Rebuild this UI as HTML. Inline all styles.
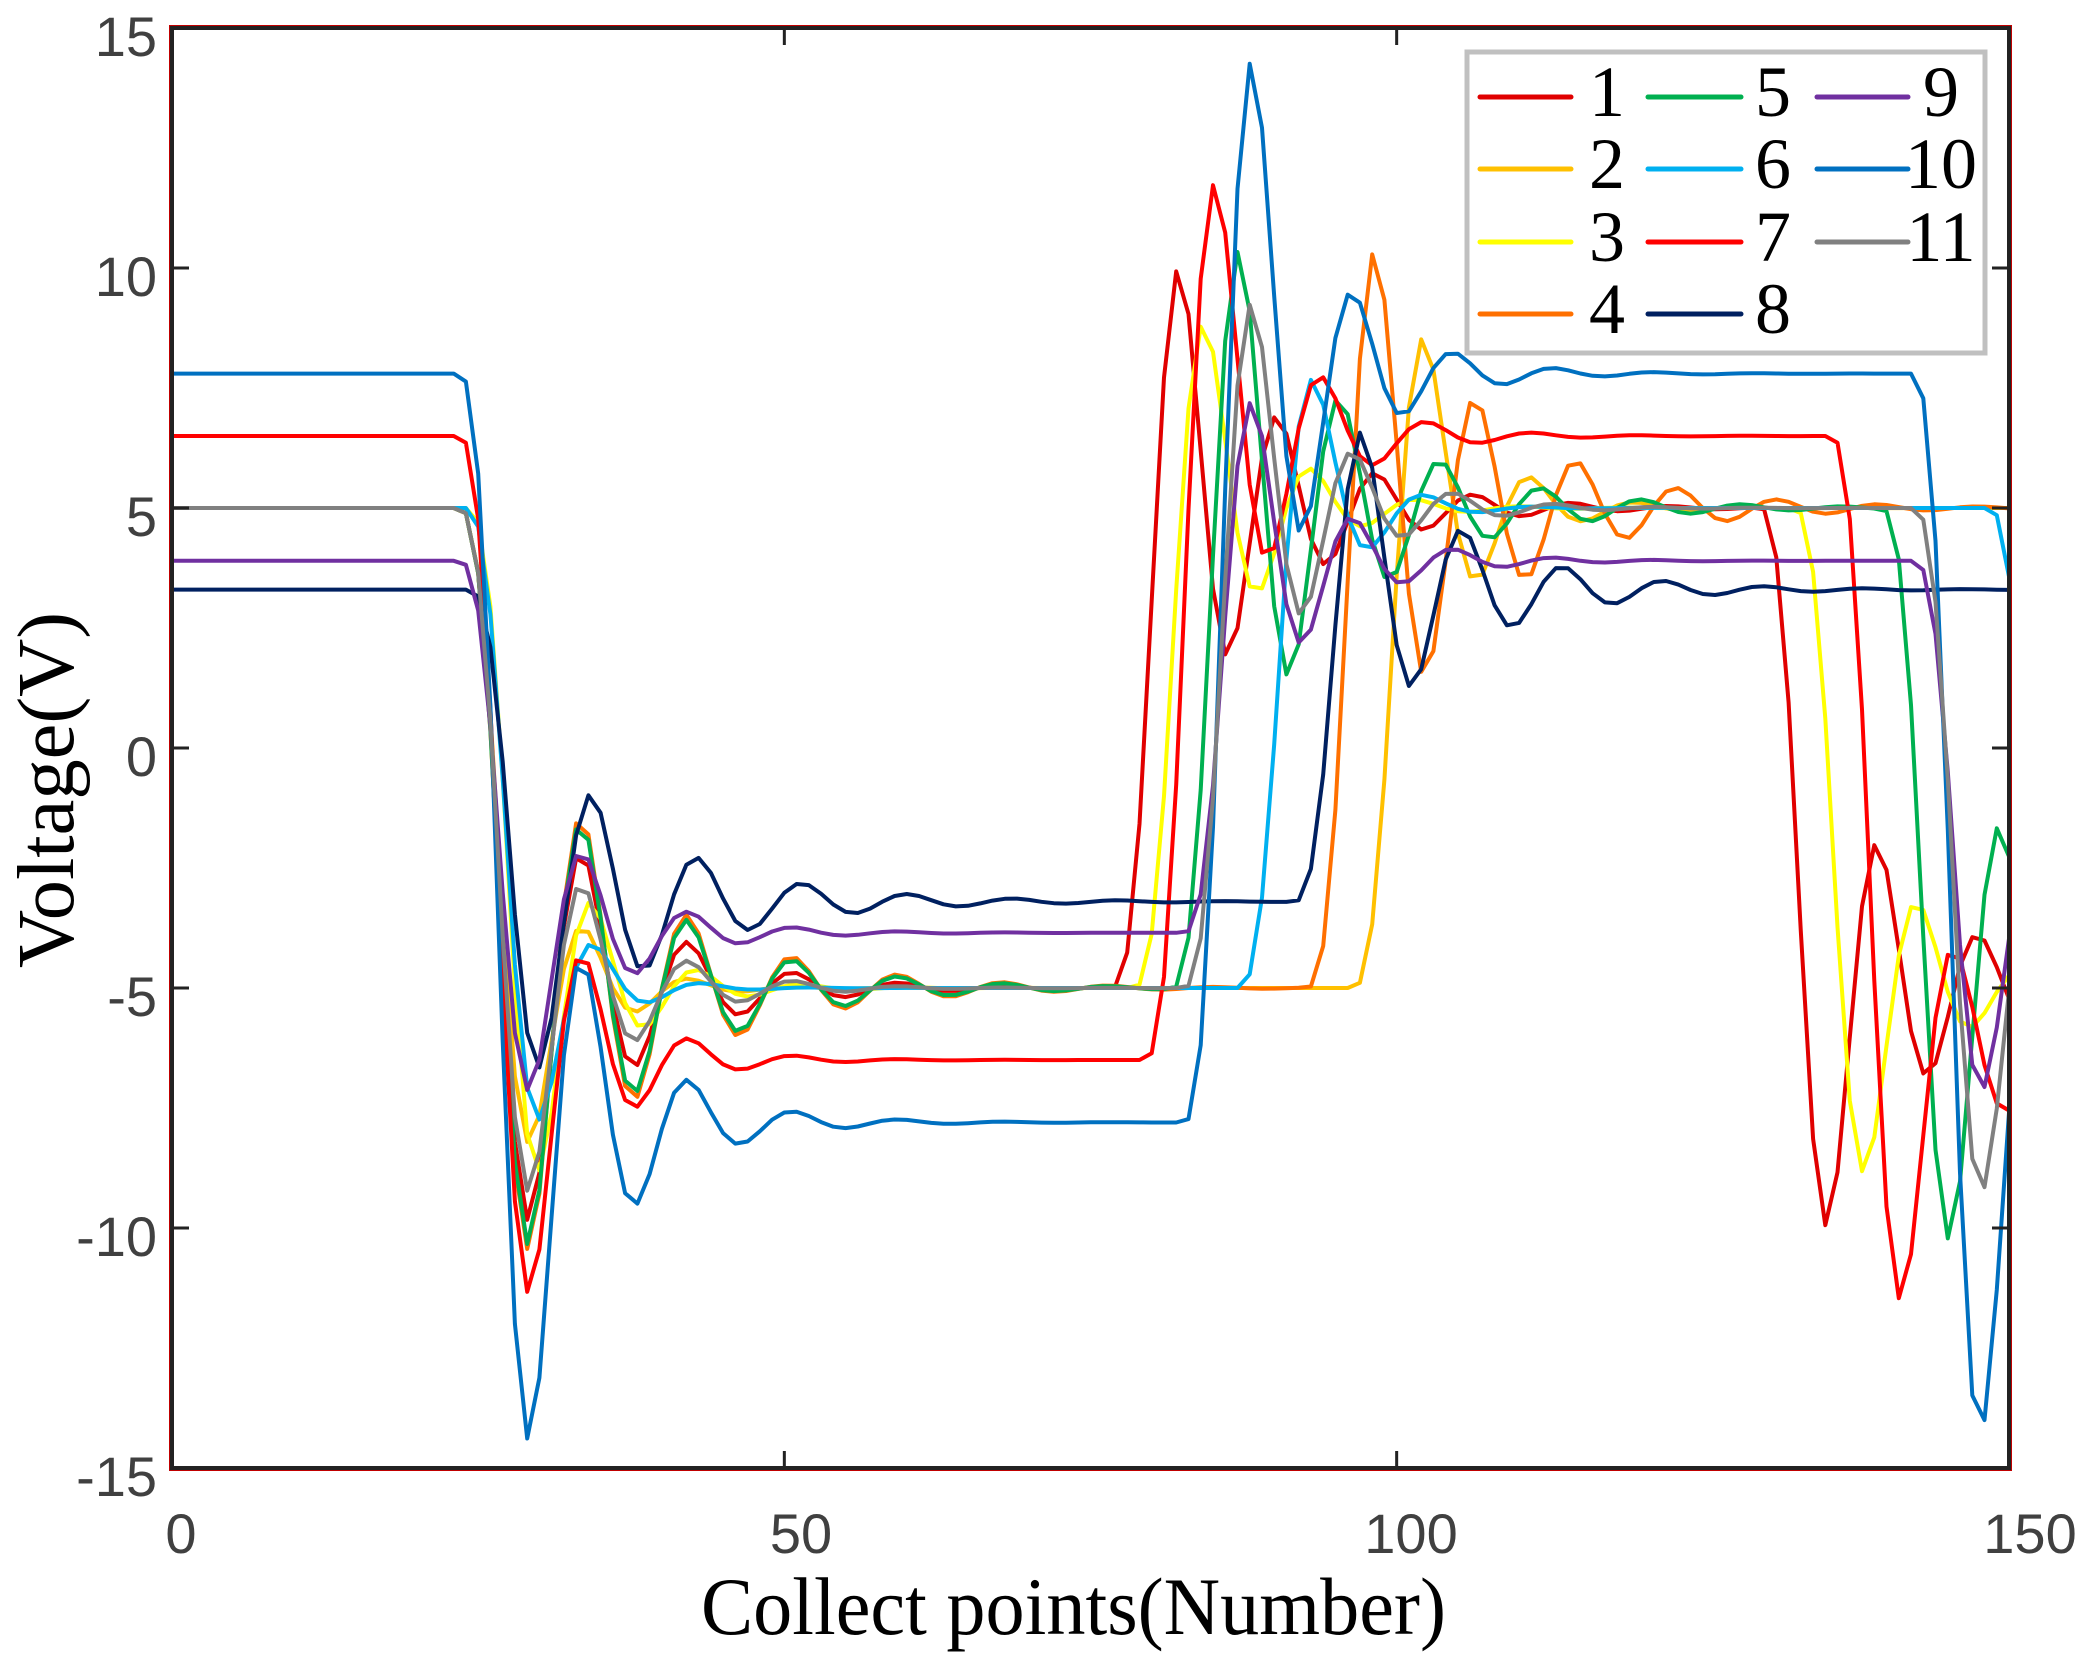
<!DOCTYPE html>
<html><head><meta charset="utf-8"><style>
html,body{margin:0;padding:0;background:#fff}
svg{display:block}
</style></head><body>
<svg id="s" width="2087" height="1670" viewBox="0 0 2087 1670" xmlns="http://www.w3.org/2000/svg">
<rect width="2087" height="1670" fill="#fff"/>
<defs><clipPath id="c"><rect x="172" y="28" width="1837" height="1440"/></clipPath></defs>
<g id="curves" clip-path="url(#c)"></g>
<rect x="172" y="28" width="1837" height="1440" fill="none" stroke="#222" stroke-width="4"/>
<rect x="169.5" y="25.5" width="1842" height="1445" fill="none" stroke="#c00000" stroke-width="1"/>
<g id="ticks" stroke="#222" stroke-width="3"></g>
<g font-family="Liberation Sans, Arial, sans-serif" font-size="56" fill="#404040" text-anchor="end">
<text x="157" y="56">15</text>
<text x="157" y="296">10</text>
<text x="157" y="536">5</text>
<text x="157" y="776">0</text>
<text x="157" y="1016">-5</text>
<text x="157" y="1256">-10</text>
<text x="157" y="1496">-15</text>
</g>
<g font-family="Liberation Sans, Arial, sans-serif" font-size="56" fill="#404040" text-anchor="middle">
<text x="181" y="1553">0</text>
<text x="801" y="1553">50</text>
<text x="1411" y="1553">100</text>
<text x="2030" y="1553">150</text>
</g>
<text x="701" y="1634" font-family="Liberation Serif, Times New Roman, serif" font-size="82" fill="#000" textLength="745" lengthAdjust="spacingAndGlyphs">Collect points(Number)</text>
<text transform="translate(73,968) rotate(-90)" x="0" y="0" font-family="Liberation Serif, Times New Roman, serif" font-size="80" fill="#000" textLength="356" lengthAdjust="spacingAndGlyphs">Voltage(V)</text>
<rect x="1467" y="52" width="518" height="301" fill="#fff" stroke="#c0c0c0" stroke-width="5"/>
<g id="legend" stroke-width="5" stroke-linecap="round"></g>
<g font-family="Liberation Serif, Times New Roman, serif" font-size="72" fill="#000" text-anchor="middle">
<text x="1607" y="116">1</text><text x="1607" y="188">2</text><text x="1607" y="261">3</text><text x="1607" y="333">4</text>
<text x="1773" y="116">5</text><text x="1773" y="188">6</text><text x="1773" y="261">7</text><text x="1773" y="333">8</text>
<text x="1941" y="116">9</text><text x="1941" y="188">10</text><text x="1941" y="261">11</text>
</g>
</svg>
<script>
(function(){
var NS="http://www.w3.org/2000/svg";
function X(u){return 172+u*1837/150;}
function Y(v){return 748-48*v;}
function g(t,H,r){if(t<=0)return 1;var s=Math.log(1/r)/H,w=Math.PI/H;return Math.exp(-s*t)*(Math.cos(w*t)+s/w*Math.sin(w*t));}
var TR=2.6,N=13;
function gr(t,H,r){var a=0;for(var j=0;j<N;j++)a+=g(t-TR*j/(N-1),H,r);return a/N;}
var C=[
["#E00000",[5,-5,5,-5],[[29,.49,4.3],[82.1,.52,4.0],[135,.51,4.1]]],
["#FFC000",[5,-5,5],[[29,.33,4.3],[102,.36,4.3]]],
["#FFFF00",[5,-5,5,-5],[[29.7,.39,4.3],[84.1,.39,4.3],[138,.39,4.3]]],
["#FF7000",[5,-5,5],[[29,.55,4.3],[98.1,.55,4.1]]],
["#00B050",[5,-5,5,-5],[[29,.54,4.3],[87,.55,4.1],[145,.54,4.1]]],
["#00B0F0",[5,-5,5,-5],[[29.7,.28,4.4],[92.9,.27,4.5],[153.9,.27,4.5]]],
["#FF0000",[6.5,-6.5,6.5,-6.5],[[29,.38,4.3],[85,.41,4.3],[141,.39,4.3]]],
["#002060",[3.3,-3.2,3.3],[[29.8,.54,4.3],[97,.52,4.1]]],
["#7030A0",[3.9,-3.85,3.9,-3.9],[[29,.43,4.3],[88,.44,4.1],[147.6,.43,4.1]]],
["#0070C0",[7.8,-7.8,7.8,-7.8],[[29,.43,4.3],[88,.43,4.1],[147.5,.43,4.1]]],
["#808080",[5,-5,5,-5],[[29,.43,4.3],[88,.44,4.1],[147.6,.44,4.1]]]
];
var G=document.getElementById("curves");
C.forEach(function(c){
 var L=c[1],T=c[2],d="";
 for(var u=0;u<=150;u++){
  var v=L[0];
  for(var k=0;k<T.length;k++){
   var H=T[k][2],r=Math.min(0.8,T[k][1]/0.84);
   var t0=T[k][0]-H-TR/2;
   if(c[0]=="#00B0F0"&&k==2)t0=148.3;
   v+=(L[k+1]-L[k])*(1-gr(u-t0,H,r));
  }
  d+=(u?"L":"M")+X(u).toFixed(1)+" "+Y(v).toFixed(1);
 }
 var p=document.createElementNS(NS,"path");
 p.setAttribute("d",d);p.setAttribute("fill","none");p.setAttribute("stroke",c[0]);
 p.setAttribute("stroke-width","4");p.setAttribute("stroke-linejoin","round");
 G.appendChild(p);
});
var TK=document.getElementById("ticks"),td="";
for(var v=-15;v<=15;v+=5){td+="M172 "+Y(v)+"H189M1992 "+Y(v)+"H2009";}
[0,50,100,150].forEach(function(u){td+="M"+X(u)+" 1468V1451M"+X(u)+" 28V45";});
var tp=document.createElementNS(NS,"path");tp.setAttribute("d",td);TK.appendChild(tp);
var LG=document.getElementById("legend");
var cols=[[1480,1571],[1648,1741],[1817,1908]],rows=[97,169,242,314];
C.forEach(function(c,i){
 var col=Math.floor(i/4),row=i%4;
 var l=document.createElementNS(NS,"line");
 l.setAttribute("x1",cols[col][0]);l.setAttribute("x2",cols[col][1]);
 l.setAttribute("y1",rows[row]);l.setAttribute("y2",rows[row]);
 l.setAttribute("stroke",c[0]);LG.appendChild(l);
});
})();
</script>
</body></html>
